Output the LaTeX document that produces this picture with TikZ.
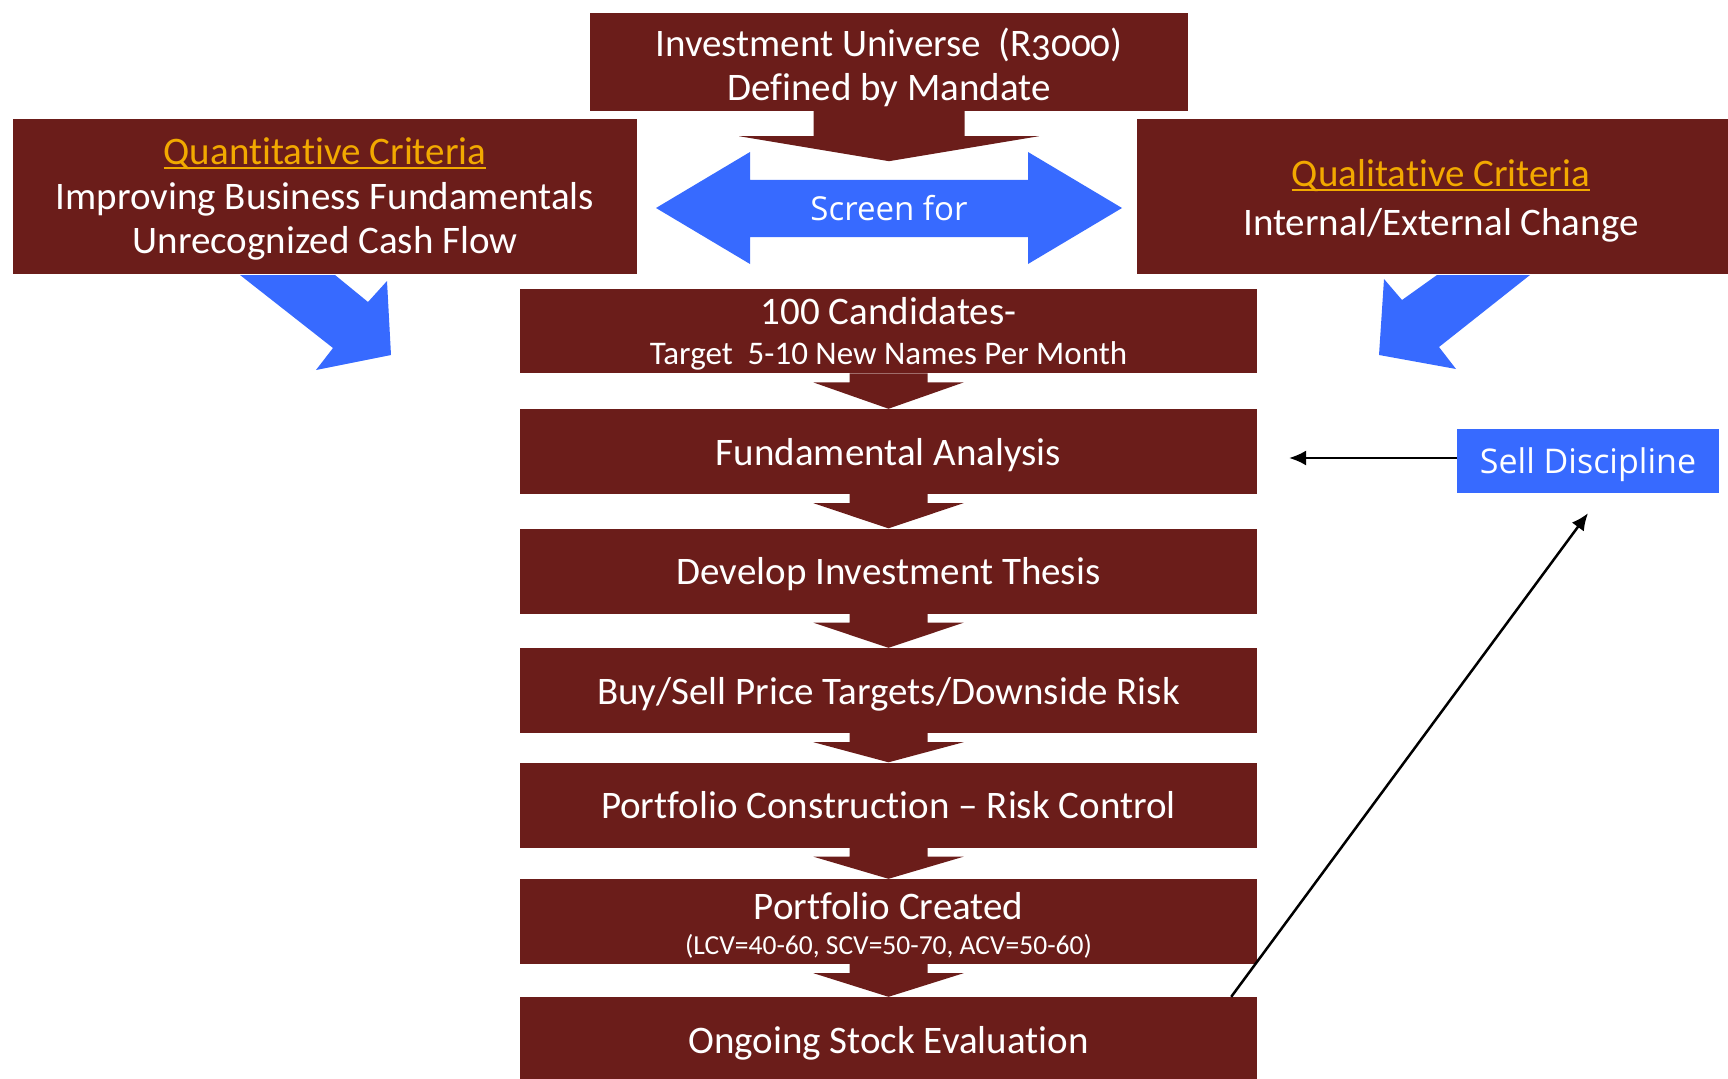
\documentclass[tikz,border=0pt]{standalone}
\usepackage{fontspec}
\setmainfont{Carlito}[Ligatures=NoCommon]
\newfontfamily\sdfont{Open Sans}
\usetikzlibrary{calc,arrows.meta}
\definecolor{dred}{HTML}{6B1D1A}
\definecolor{bblue}{HTML}{376AFF}
\definecolor{gold}{HTML}{F2A900}
\newcommand\gul[1]{\setbox0\hbox{#1}\rlap{\rule[-4.5pt]{\wd0}{2.5pt}}\box0}
\newcommand\hst[1]{\rule{0pt}{#1}}
\newcommand\dst[1]{\rule[-#1]{0pt}{#1}}
\newcommand\oneline[1]{\hst{40pt}#1\dst{12.8pt}}
\newcommand\blockdown[2]{\fill[dred] ($(#1.south)+(-39,0)$) -- ($(#1.south)+(39,0)$) -- ($(#1.south)+(39,9)$) -- ($(#1.south)+(75,9)$) -- (#2.north) -- ($(#1.south)+(-75,9)$) -- ($(#1.south)+(-39,9)$) -- cycle;}
\begin{document}
\begin{tikzpicture}[x=1pt,y=-1pt,
  box/.style={fill=dred, text=white, inner sep=0pt, align=center, font=\fontsize{39}{44.5}\selectfont},
  midbox/.style={box, minimum width=737pt, minimum height=85pt},
  arr/.style={line width=2.5pt, -{Latex[length=17pt,width=15pt]}}]
\useasboundingbox (0,0) rectangle (1728,1078);
% blue diagonal arrows
\fill[bblue] (240,275) -- (335,275) -- (368,302) -- (387,281) -- (391,355) -- (316,370) -- (333,348) -- cycle;
\fill[bblue] (1530,275) -- (1437,275) -- (1402,300) -- (1384,279) -- (1379,355) -- (1456,369) -- (1439,347) -- cycle;
% top boxes
\node[box, font=\fontsize{39}{44}\selectfont, minimum width=598pt, minimum height=98pt] (top) at (889,62)
  {\hst{43.5pt}Investment Universe\ \ (R{\addfontfeatures{Numbers=OldStyle}3000})\\Defined by Mandate\dst{10.3pt}};
\node[box, minimum width=624pt, minimum height=155pt] (quant) at (325,196.5)
  {\hst{38pt}{\color{gold}\gul{Quantitative Criteria}}\\Improving Business Fundamentals\\Unrecognized Cash Flow\dst{12.8pt}};
\node[box, minimum width=608pt, minimum height=155pt] (qual) at (1441,196.5)
  {\hst{40pt}{\color{gold}\gul{Qualitative Criteria}}\\[4pt]Internal/External Change\dst{11.3pt}};
% screen for
\node[text=white, font=\sdfont\fontsize{33}{40}\selectfont, inner sep=0pt] (scr) at (889,208) {\phantom{Screen for}};
\fill[bblue] ($(scr)+(-233,0)$) -- ($(scr)+(-139,-56)$) -- ($(scr)+(-139,-28)$) -- ($(scr)+(139,-28)$) -- ($(scr)+(139,-56)$) -- ($(scr)+(233,0)$) -- ($(scr)+(139,56)$) -- ($(scr)+(139,29)$) -- ($(scr)+(-139,29)$) -- ($(scr)+(-139,56)$) -- cycle;
\node[text=white, font=\sdfont\fontsize{33}{40}\selectfont, inner sep=0pt] at (scr) {Screen for};
\fill[dred] ($(top.south)+(-75.5,0)$) -- ($(top.south)+(75.5,0)$) -- ($(top.south)+(75.5,25)$) -- ($(top.south)+(150,25)$) -- ($(top.south)+(0,50)$) -- ($(top.south)+(-150,25)$) -- ($(top.south)+(-75.5,25)$) -- cycle;
% middle column
\node[midbox, minimum height=84pt] (b1) at (888.5,331)
  {\hst{35.6pt}100 Candidates-\\[-4.3pt]{\fontsize{33}{38}\selectfont Target\ \ 5-10 New Names Per Month}\dst{8.7pt}};
\node[midbox] (b2) at (888.5,451.5) {\oneline{Fundamental Analysis}};
\node[midbox] (b3) at (888.5,571) {\oneline{Develop Investment Thesis}};
\node[midbox] (b4) at (888.5,690.5) {\oneline{Buy/Sell Price Targets/Downside Risk}};
\node[midbox] (b5) at (888.5,805) {\oneline{Portfolio Construction – Risk Control}};
\node[midbox] (b6) at (888.5,921.5)
  {\hst{40.4pt}Portfolio Created\\[-9.4pt]{\fontsize{27.5}{32}\selectfont (LCV=40-60, SCV=50-70, ACV=50-60)}\dst{9.4pt}};
\node[midbox, minimum height=86pt] (b7) at (888.5,1040) {\oneline{Ongoing Stock Evaluation}};
\blockdown{b1}{b2}
\blockdown{b2}{b3}
\blockdown{b3}{b4}
\blockdown{b4}{b5}
\blockdown{b5}{b6}
\blockdown{b6}{b7}
% sell discipline
\node[fill=bblue, text=white, font=\sdfont\fontsize{34}{40}\selectfont, minimum width=262pt, minimum height=64pt, inner sep=0pt] (sd) at (1588,461) {\hst{36pt}Sell Discipline\dst{11.7pt}};
\coordinate (fa) at (1289,458);
\coordinate (sdin) at ($(sd.south)+(0,20)$);
\draw[arr] ($(sd.west)+(0,-3)$) -- (fa);
\draw[arr] ($(b7.north east)+(-26,0)$) -- (sdin);
\end{tikzpicture}
\end{document}
